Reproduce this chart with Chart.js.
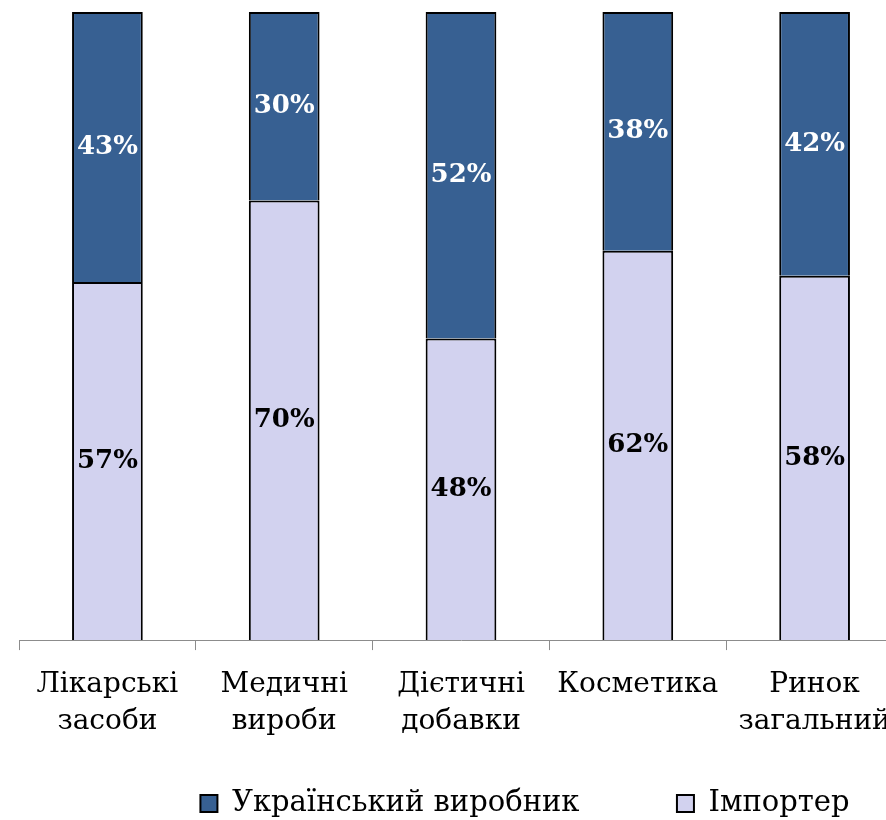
<!DOCTYPE html>
<html>
<head>
<meta charset="utf-8">
<script src="https://cdn.jsdelivr.net/npm/chart.js@4/dist/chart.umd.min.js"></script>
<style>
  html, body { margin: 0; padding: 0; background: #fff; overflow: hidden; }
  #chart { display: block; }
</style>
</head>
<body>
<canvas id="chart" width="1031" height="828"></canvas>
<script>
const categories = [
  ['Лікарські', 'засоби'],
  ['Медичні', 'вироби'],
  ['Дієтичні', 'добавки'],
  ['Косметика'],
  ['Ринок', 'загальний']
];
const importer = [57, 70, 48, 62, 58];
const ukrainian = [43, 30, 52, 38, 42];

const darkBlue = '#376092';
const lavender = '#d2d2ef';
const serif = "'DejaVu Serif', 'Liberation Serif', serif";

// draws the percentage inside every bar segment
const valueLabels = {
  id: 'valueLabels',
  afterDatasetsDraw(chart) {
    const ctx = chart.ctx;
    ctx.save();
    ctx.font = 'bold 26px ' + serif;
    ctx.textAlign = 'center';
    ctx.textBaseline = 'middle';
    chart.data.datasets.forEach((ds, i) => {
      const meta = chart.getDatasetMeta(i);
      if (meta.hidden) return;
      ctx.fillStyle = ds.labelColor;
      meta.data.forEach((bar, j) => {
        const p = bar.getCenterPoint();
        ctx.fillText(ds.data[j] + '%', p.x, p.y);
      });
    });
    ctx.restore();
  }
};

new Chart(document.getElementById('chart'), {
  type: 'bar',
  data: {
    labels: categories,
    datasets: [
      {
        label: 'Імпортер',
        data: importer,
        backgroundColor: lavender,
        borderColor: '#000',
        borderWidth: 2,
        labelColor: '#000'
      },
      {
        label: 'Український виробник',
        data: ukrainian,
        backgroundColor: darkBlue,
        borderColor: '#000',
        borderWidth: 2,
        labelColor: '#fff'
      }
    ]
  },
  options: {
    responsive: false,
    animation: false,
    layout: { padding: { top: 12, left: 19, right: 0, bottom: 0 } },
    datasets: {
      bar: { categoryPercentage: 1, barPercentage: 0.40 }
    },
    scales: {
      x: {
        stacked: true,
        grid: { drawOnChartArea: false, drawTicks: true, tickLength: 10, color: '#8c8c8c', offset: true },
        border: { color: '#8c8c8c', width: 1 },
        ticks: {
          color: '#000',
          padding: 16,
          maxRotation: 0,
          autoSkip: false,
          font: { family: serif, size: 28, lineHeight: 1.32 }
        }
      },
      y: {
        stacked: true,
        position: 'right',
        min: 0,
        max: 100,
        grid: { display: false },
        border: { display: false },
        ticks: { display: false },
        afterFit(scale) { scale.width = 128; }
      }
    },
    plugins: {
      tooltip: { enabled: false },
      legend: {
        position: 'bottom',
        reverse: true,
        labels: {
          color: '#000',
          boxWidth: 17,
          boxHeight: 17,
          padding: 33,
          font: { family: serif, size: 29 },
          // first entry gets extra trailing room, like the wide gap in the original legend
          generateLabels(chart) {
            const items = Chart.defaults.plugins.legend.labels.generateLabels(chart);
            items.forEach(item => {
              if (item.datasetIndex === 1) item.text += '       ';
            });
            return items;
          }
        }
      }
    }
  },
  plugins: [valueLabels]
});
</script>
</body>
</html>
